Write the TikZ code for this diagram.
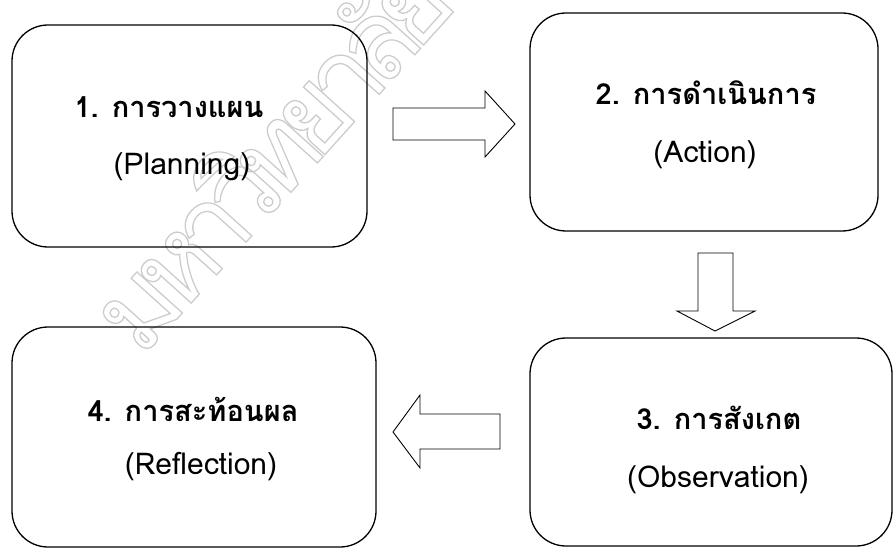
\documentclass[tikz,border=0pt]{standalone}
\usepackage{fontspec}
\setmainfont[Script=Thai]{Loma}
\newfontfamily\wmfont[Script=Thai,LetterSpace=-14]{Loma}
\usetikzlibrary{positioning}

\begin{document}
\begin{tikzpicture}[x=1pt,y=-1pt,line width=1.3pt,
		stage/.style={draw,rounded corners=36pt,inner sep=0pt},
		thai/.style={font=\fontsize{29}{32}\selectfont\bfseries},
		eng/.style={font=\fontsize{30}{32}\selectfont},
		fat/.style={draw,line width=0.9pt,line join=miter}]
		\useasboundingbox (0,0) rectangle (893,548);
		\node[color=gray!40,rotate=48,anchor=west,inner sep=0pt,font=\wmfont\fontsize{110}{110}\selectfont] (wm) at (108,330)
			{\special{pdf:literal direct 1 Tr 1.3 w}มหาวิทยาลัยร\special{pdf:literal direct 0 Tr}};
		
		\node[stage,minimum width=355,minimum height=222] (plan) at (189.5,136) {};
		\node[stage,minimum width=348,minimum height=218] (act) at (704,122) {};
		\node[stage,minimum width=362,minimum height=208] (obs) at (711,442) {};
		\node[stage,minimum width=364,minimum height=220] (refl) at (194,437) {};
		
		\node[thai] (plana) at (169,107) {1. การวางแผน};
		\node[eng] (planb) at (182,167) {(Planning)};
		\node[thai] (acta) at (706,93) {2. การดำเนินการ};
		\node[eng] (actb) at (705,155) {(Action)};
		\node[thai] (obsa) at (719,418) {3. การสังเกต};
		\node[eng] (obsb) at (718,480) {(Observation)};
		\node[thai] (refla) at (193,409) {4. การสะท้อนผล};
		\node[eng] (reflb) at (201,467) {(Reflection)};
		
		\draw[fat] (393,108)--(485,108)--(485,91)--(515,124)--(485,157)--(485,140)--(393,140)--cycle;
		\draw[fat] (698,253)--(733,253)--(733,311)--(755,311)--(715,331)--(677,311)--(698,311)--cycle;
		\draw[fat] (500,414)--(420,414)--(420,395)--(393,432)--(420,468)--(420,449)--(500,449)--cycle;
		\end{tikzpicture}
\end{document}
